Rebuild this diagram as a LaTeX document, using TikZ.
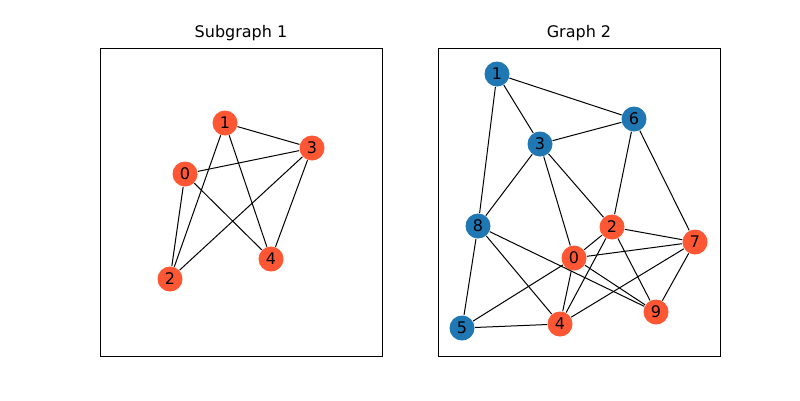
\documentclass[tikz,border=0pt]{standalone}
\usepackage{fontspec}
\setmainfont{DejaVu Sans}
\begin{document}
\begin{tikzpicture}[x=1pt, y=-1pt, line width=1pt,
  vtx/.style={circle, minimum size=25pt, inner sep=0pt, font=\fontsize{16}{18}\selectfont},
  red/.style={vtx, fill={rgb,255:red,255;green,87;blue,51}},
  blue/.style={vtx, fill={rgb,255:red,31;green,119;blue,180}},
  ttl/.style={font=\fontsize{16}{18}\selectfont},
  frame/.style={line width=0.8pt}]
\useasboundingbox (0,0) rectangle (800,400);
\draw[frame] (100,48) rectangle (382,356);
\draw[frame] (438,48) rectangle (720,356);
\node[ttl] (t1) at (241,33) {Subgraph 1};
\node[ttl] (t2) at (579,33) {Graph 2};

% subgraph 1
\node[red] (a1) at (225,123) {1};
\node[red] (a3) at (312,148) {3};
\node[red] (a0) at (185,174) {0};
\node[red] (a2) at (170,279) {2};
\node[red] (a4) at (271,259) {4};
\foreach \u/\v in {a1/a3, a1/a2, a1/a4, a0/a3, a0/a2, a0/a4, a3/a2, a3/a4}
  \draw (\u) -- (\v);

% graph 2
\node[blue] (b1) at (497,74) {1};
\node[blue] (b6) at (634,119) {6};
\node[blue] (b3) at (540,144) {3};
\node[blue] (b8) at (478,226) {8};
\node[red] (b2) at (612,227) {2};
\node[red] (b7) at (695,242) {7};
\node[red] (b0) at (574,258) {0};
\node[red] (b9) at (656,312) {9};
\node[blue] (b5) at (462,328) {5};
\node[red] (b4) at (560,324) {4};
\foreach \u/\v in {b1/b6, b1/b3, b1/b8, b3/b6, b3/b8, b3/b2, b3/b0, b6/b2, b6/b7,
  b2/b7, b2/b9, b2/b4, b2/b0, b0/b7, b0/b5, b0/b4, b0/b9, b8/b5, b8/b4, b8/b9,
  b5/b4, b4/b7, b7/b9}
  \draw (\u) -- (\v);
\end{tikzpicture}
\end{document}
